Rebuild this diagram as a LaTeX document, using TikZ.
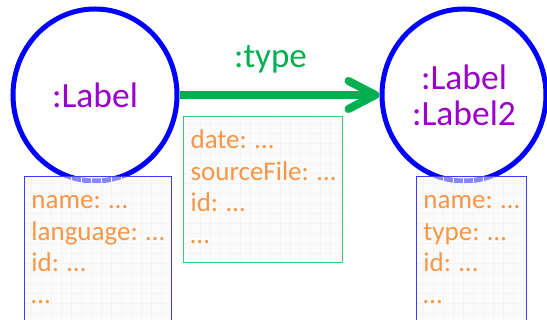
\documentclass[tikz,border=0pt]{standalone}
\usepackage{fontspec}
\setmainfont{Carlito}
\usepackage{tikz}
\definecolor{nodeblue}{RGB}{0,0,255}
\definecolor{boxblue}{RGB}{60,60,255}
\definecolor{labelpurple}{RGB}{153,0,204}
\definecolor{relgreen}{RGB}{0,176,80}
\definecolor{boxgreen}{RGB}{60,200,110}
\definecolor{proporange}{RGB}{247,150,70}
\usetikzlibrary{arrows.meta, positioning, shapes.geometric}
\tikzstyle{entity} = [draw=nodeblue, line width=5pt, ellipse, inner sep=0pt, minimum width=164pt, minimum height=172pt, text=labelpurple, align=center, font=\fontsize{35.5}{36}\selectfont]
\tikzstyle{props} = [draw, fill=gray!6, fill opacity=0.55, text opacity=1, line width=1.2pt, rectangle, align=left, text=proporange, inner xsep=7pt, inner ysep=10pt, font=\fontsize{27}{31.5}\selectfont, path picture={\draw[gray!9, line width=0.3pt, step=10pt] (path picture bounding box.south west) grid (path picture bounding box.north east);}]
\tikzstyle{rel} = [-{Straight Barb[length=27pt, width=28pt, round]}, relgreen, line width=8pt]

\begin{document}
\begin{tikzpicture}[x=1pt, y=1pt]
    \clip (0,0) rectangle (547,320);
    % Place the nodes
    \node [entity] (src) at (95,225) {:Label};
    \node [entity, right=200pt of src] (dst) {:Label\\:Label2};

    % Connect the nodes
    \draw [rel] (src) -- node[above=15pt, pos=0.455, text=relgreen, font=\fontsize{35}{36}\selectfont] (type) {:type} (dst);

    % Place the property boxes
    \node [props, draw=boxblue, below=-7.5pt of src, xshift=3pt, minimum width=146pt, text depth=140pt] (srcprops) {\strut name: …\\language: …\\id: …\\…};
    \node [props, draw=boxgreen, anchor=north west, minimum width=159pt] (relprops) at (183,204) {\strut date: …\\sourceFile: …\\id: …\\…\strut};
    \node [props, draw=boxblue, below=-7.5pt of dst, xshift=7.5pt, minimum width=109pt, text depth=140pt] (dstprops) {\strut name: …\\type: …\\id: …\\…};
\end{tikzpicture}
\end{document}
